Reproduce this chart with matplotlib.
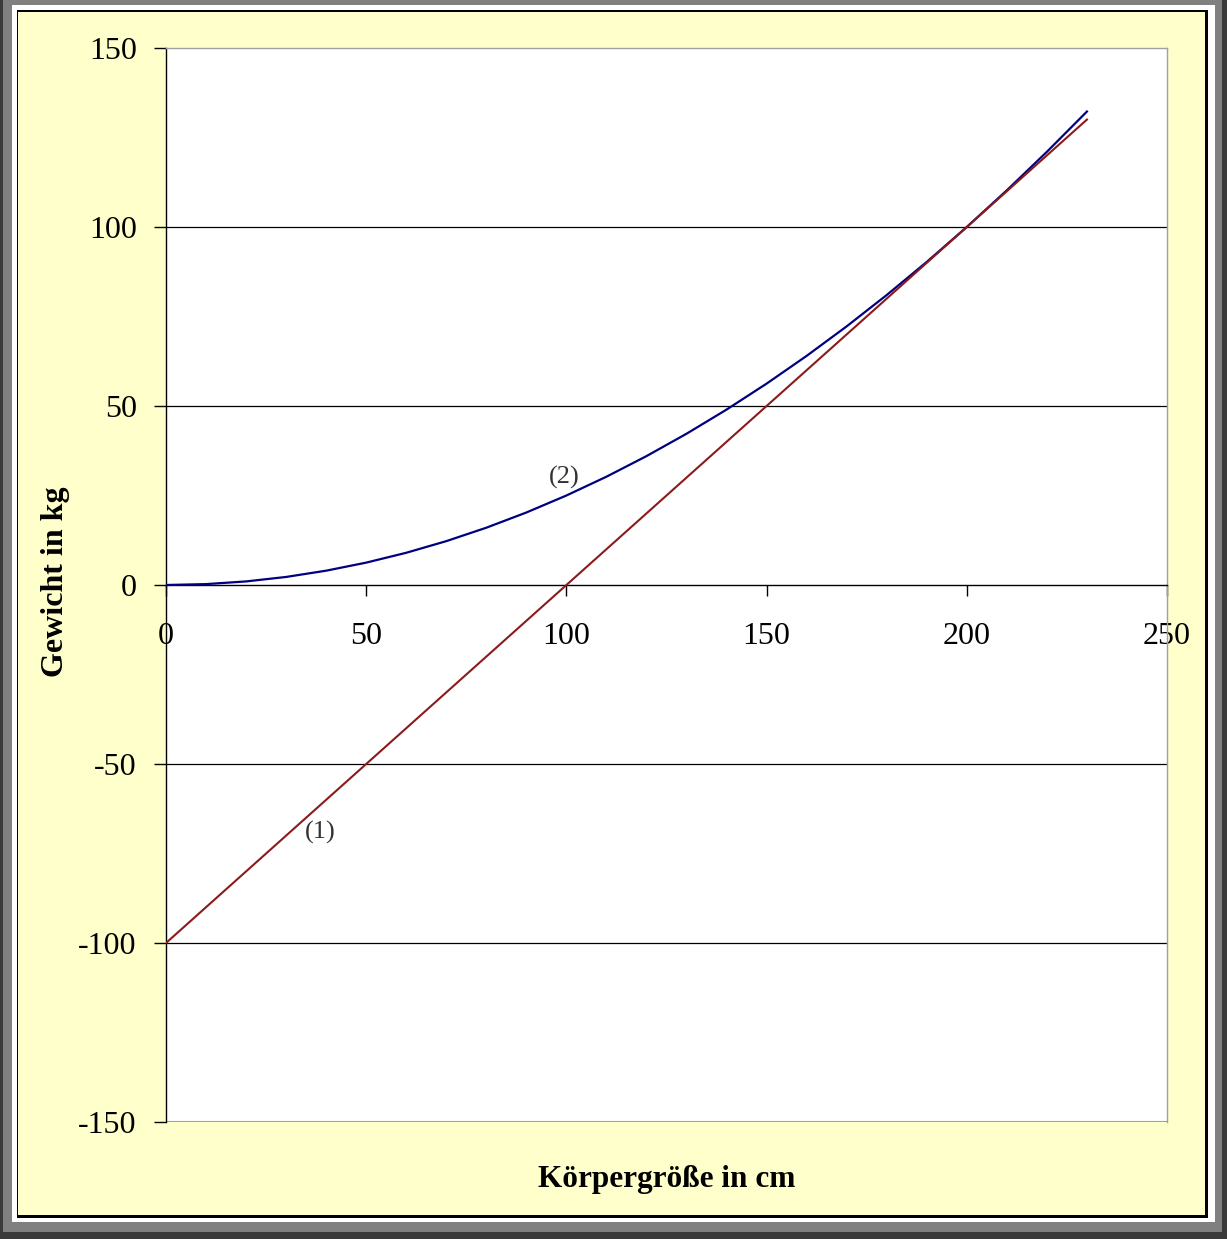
import matplotlib
matplotlib.use('Agg')
import matplotlib.pyplot as plt
from matplotlib.patches import Rectangle

# Werte
groesse = [0, 10, 20, 30, 40, 50, 60, 70, 80, 90, 100, 110, 120,
           130, 140, 150, 160, 170, 180, 190, 200, 210, 220, 230]
gewicht_1 = [-100, -90, -80, -70, -60, -50, -40, -30, -20, -10, 0, 10, 20,
             30, 40, 50, 60, 70, 80, 90, 100, 110, 120, 130]
gewicht_2 = [0, 0.25, 1, 2.25, 4, 6.25, 9, 12.25, 16, 20.25, 25, 30.25, 36,
             42.25, 49, 56.25, 64, 72.25, 81, 90.25, 100, 110.25, 121, 132.25]
y_ticks = [-150, -100, -50, 0, 50, 100, 150]
x_ticks = [0, 50, 100, 150, 200, 250]

W, H = 1227, 1239
plt.rcParams['font.family'] = ['Liberation Serif', 'DejaVu Serif']
plt.rcParams['axes.unicode_minus'] = False

fig = plt.figure(figsize=(W / 100, H / 100), dpi=100)
fig.patch.set_facecolor('#3a3a3a')


def box(x0, y0, x1, y1, color):
    # Rechteck in Pixeln (oben links -> unten rechts)
    fig.patches.append(Rectangle((x0 / W, 1 - y1 / H), (x1 - x0) / W, (y1 - y0) / H,
                                 transform=fig.transFigure, facecolor=color,
                                 edgecolor='none', zorder=-10))


box(3, 0, 1222, 1232, '#808080')
box(12, 5, 1215, 1222, '#ffffff')
box(17, 10, 1208, 1218, '#000000')
box(18, 12, 1205, 1215, '#ffffcc')

ax = fig.add_axes([166 / W, 1 - 1122 / H, (1167 - 166) / W, (1122 - 48) / H])
ax.set_facecolor('white')
ax.set_xlim(0, 250)
ax.set_ylim(-150, 150)

for v in [-100, -50, 50, 100]:
    ax.axhline(v, color='black', lw=0.9, zorder=1)

ax.plot(groesse, gewicht_2, color='#000080', lw=1.6, zorder=3)
ax.plot(groesse, gewicht_1, color='#8b1a1a', lw=1.5, zorder=3)

ax.text(38.5, -69, '(1)', fontsize=19, ha='center', va='center', color='#333333')
ax.text(99.5, 30, '(2)', fontsize=19, ha='center', va='center', color='#333333')

ax.spines['bottom'].set_position(('data', 0))
ax.spines['bottom'].set_color('black')
ax.spines['left'].set_color('black')
ax.spines['top'].set_color('#a0a0a0')
ax.spines['right'].set_color('#a0a0a0')
for s in ['top', 'right', 'left', 'bottom']:
    ax.spines[s].set_linewidth(1.0)

# graue Umrandung unten
ax.axhline(-150, color='#a0a0a0', lw=1.5, zorder=0)

ax.set_yticks(y_ticks)
ax.set_xticks(x_ticks)
ax.tick_params(axis='y', direction='out', length=9, width=1, pad=12, labelsize=23)
ax.tick_params(axis='x', direction='out', length=8, width=1, pad=19, labelsize=23)

fig.text(667 / W, 1 - 1180 / H, 'Körpergröße in cm', fontsize=22.5, fontweight='bold',
         ha='center', va='center')
fig.text(55 / W, 1 - 582 / H, 'Gewicht in kg', fontsize=23, fontweight='bold',
         ha='center', va='center', rotation=90)

fig.savefig('out.png', dpi=100, facecolor=fig.get_facecolor())
